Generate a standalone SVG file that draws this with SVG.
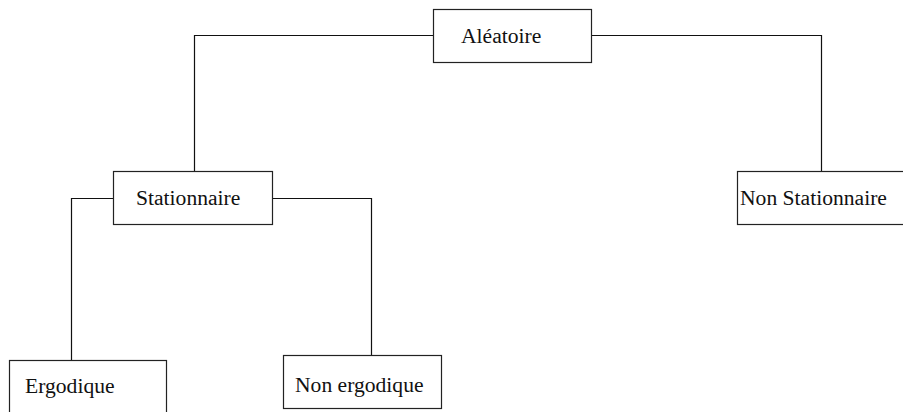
<svg xmlns="http://www.w3.org/2000/svg" width="903" height="412" viewBox="0 0 903 412">
<style>
.box{fill:#fff;stroke:#222;stroke-width:1.2}
.lbl{font-family:"Liberation Serif","Times New Roman",serif;font-size:21.6px;fill:#111}
.conn{fill:none;stroke:#111;stroke-width:1.2}
</style>
<rect width="903" height="412" fill="#fff"/>
<g id="connectors">
<polyline class="conn" points="433.5,35.5 194.5,35.5 194.5,171.5"/>
<polyline class="conn" points="591.5,35.5 821.5,35.5 821.5,171.5"/>
<polyline class="conn" points="113.5,198.5 71.5,198.5 71.5,360.5"/>
<polyline class="conn" points="272.5,198.5 371.5,198.5 371.5,355.5"/>
</g>
<g id="aleatoire">
<rect class="box" x="433.5" y="9.5" width="158" height="53"/>
<text class="lbl" x="461" y="43">Aléatoire</text>
</g>
<g id="stationnaire">
<rect class="box" x="113.5" y="171.5" width="159" height="53"/>
<text class="lbl" x="136" y="205">Stationnaire</text>
</g>
<g id="non-stationnaire">
<rect class="box" x="737.5" y="171.5" width="170" height="53"/>
<text class="lbl" x="740" y="205">Non Stationnaire</text>
</g>
<g id="ergodique">
<rect class="box" x="9.5" y="360.5" width="157" height="60"/>
<text class="lbl" x="25" y="393">Ergodique</text>
</g>
<g id="non-ergodique">
<rect class="box" x="283.5" y="355.5" width="158" height="53"/>
<text class="lbl" x="295" y="392">Non ergodique</text>
</g>
</svg>
